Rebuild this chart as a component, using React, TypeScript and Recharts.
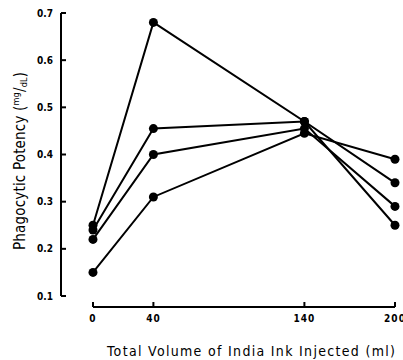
import React from 'react';
import { LineChart, Line, XAxis, YAxis, ReferenceLine } from 'recharts';

const volumes = [0, 40, 140, 200];
const seriesA = [0.25, 0.68, 0.47, 0.25];
const seriesB = [0.24, 0.455, 0.47, 0.34];
const seriesC = [0.22, 0.40, 0.455, 0.29];
const seriesD = [0.15, 0.31, 0.445, 0.39];
const xTicks = [0, 40, 140, 200];
const yTicks = [0.1, 0.2, 0.3, 0.4, 0.5, 0.6, 0.7];
const xTitle = 'Total Volume of India Ink Injected (ml)';
const yTitlePrefix = 'Phagocytic Potency (';

const data = volumes.map((v, i) => ({
  v,
  a: seriesA[i],
  b: seriesB[i],
  c: seriesC[i],
  d: seriesD[i],
}));

const tickFont = "'DejaVu Sans Condensed', 'DejaVu Sans', sans-serif";
const titleFont = "'Liberation Sans Narrow', 'DejaVu Sans Condensed', sans-serif";

const YTick = (props: any) => {
  const { x, y, payload } = props;
  return (
    <g>
      <line x1={x} y1={y} x2={x + 5} y2={y} stroke="#000" strokeWidth={2} />
      <text x={x - 8} y={y + 3.5} textAnchor="end" fontSize={10} fontWeight="bold" fontFamily={tickFont} fill="#000">
        {Number(payload.value).toFixed(1)}
      </text>
    </g>
  );
};

const XTick = (props: any) => {
  const { x, y, payload } = props;
  return (
    <g>
      <line x1={x} y1={y + 11} x2={x} y2={y + 6} stroke="#000" strokeWidth={2} />
      <text x={x} y={y + 26} textAnchor="middle" fontSize={10} fontWeight="bold" letterSpacing={1} fontFamily={tickFont} fill="#000">
        {payload.value}
      </text>
    </g>
  );
};

const XLabel = (props: any) => {
  const vb = props.viewBox || { x: 61, y: 296 };
  return (
    <text x={vb.x + 190} y={vb.y + 60} textAnchor="middle" fontSize={14} fontFamily={titleFont} textLength={288} lengthAdjust="spacing" fill="#000">
      {xTitle}
    </text>
  );
};

const YLabel = () => (
  <text x={25} y={161} transform="rotate(-90, 25, 161)" textAnchor="middle" fontSize={15} fontFamily={titleFont} textLength={178} lengthAdjust="spacing" fill="#000">
    {yTitlePrefix}
    <tspan fontSize={9} dy={-6}>mg</tspan>
    <tspan dy={6}>/</tspan>
    <tspan fontSize={9} dy={2}>dL</tspan>
    <tspan dy={-2}>)</tspan>
  </text>
);

const lineProps = {
  type: 'linear' as const,
  stroke: '#000',
  strokeWidth: 2,
  dot: { r: 4.5, fill: '#000', stroke: '#000', strokeWidth: 0 },
  activeDot: false as const,
  isAnimationActive: false,
};

export default function App() {
  return (
    <div style={{ position: 'absolute', left: 0, top: 0, width: 403, height: 360, background: '#fff' }}>
      <LineChart width={403} height={360} data={data} margin={{ top: 13, right: 8, left: 0, bottom: 0 }}>
        <XAxis
          dataKey="v"
          type="number"
          domain={[0, 200]}
          ticks={xTicks}
          padding={{ left: 32, right: 0 }}
          axisLine={false}
          tickLine={false}
          tickSize={0}
          tickMargin={0}
          height={64}
          tick={<XTick />}
          interval={0}
          label={<XLabel />}
        />
        <YAxis
          type="number"
          domain={[0.1, 0.7]}
          ticks={yTicks}
          width={61}
          axisLine={{ stroke: '#000', strokeWidth: 2 }}
          tickLine={false}
          tickSize={0}
          tickMargin={0}
          tick={<YTick />}
          interval={0}
          allowDataOverflow
        />
        <ReferenceLine
          segment={[{ x: 0, y: 0.0767 }, { x: 200, y: 0.0767 }]}
          stroke="#000"
          strokeWidth={2}
          ifOverflow="visible"
        />
        <Line dataKey="a" {...lineProps} />
        <Line dataKey="b" {...lineProps} />
        <Line dataKey="c" {...lineProps} />
        <Line dataKey="d" {...lineProps} />
      </LineChart>
      <svg width={403} height={360} style={{ position: 'absolute', left: 0, top: 0, pointerEvents: 'none' }}>
        <YLabel />
      </svg>
    </div>
  );
}
